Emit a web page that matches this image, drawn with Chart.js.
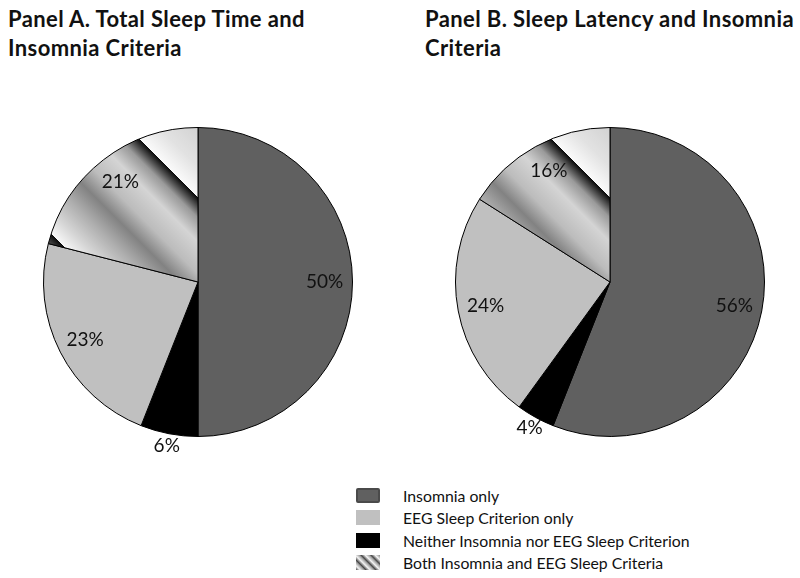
<!DOCTYPE html>
<html>
<head>
<meta charset="utf-8">
<script src="https://cdn.jsdelivr.net/npm/chart.js@4.4.0/dist/chart.umd.min.js"></script>
<style>
  body { margin: 0; background: #fff; font-family: Lato, "Open Sans", sans-serif; }
  #page { position: relative; width: 800px; height: 578px; overflow: hidden; }
  .title { position: absolute; top: 4px; font-weight: bold; font-size: 22px; letter-spacing: 0.4px; line-height: 29px; color: #111; }
  .box { position: absolute; top: 92px; width: 380px; height: 380px; }
  #legend { position: absolute; left: 356px; top: 484px; font-size: 15.8px; color: #111; }
  .row { display: flex; align-items: center; height: 22.5px; }
  .sw { width: 24px; height: 15px; margin-right: 23px; box-sizing: border-box; }
</style>
</head>
<body>
<div id="page">
  <div class="title" style="left:8px">Panel A. Total Sleep Time and<br>Insomnia Criteria</div>
  <div class="title" style="left:425px">Panel B. Sleep Latency and Insomnia<br>Criteria</div>
  <div class="box" style="left:8px"><canvas id="chartA"></canvas></div>
  <div class="box" style="left:420px"><canvas id="chartB"></canvas></div>
  <div id="legend"></div>
</div>
<script>
// slices in drawing order (clockwise from 12 o'clock)
const sliceLabels = ['Insomnia only', 'Neither Insomnia nor EEG Sleep Criterion', 'EEG Sleep Criterion only', 'Both Insomnia and EEG Sleep Criteria'];
const panelA = [50, 6, 23, 21];
const panelB = [56, 4, 24, 16];
const legendOrder = [0, 2, 1, 3];
const sliceColors = ['#606060', '#000000', '#c0c0c0', null];

// metallic diagonal band fill for the "both" slice
function bothFill(ctx) {
    const chart = ctx.chart;
    const area = chart.chartArea;
    if (!area) return '#bbbbbb';
    const cx = (area.left + area.right) / 2;
    const cy = (area.top + area.bottom) / 2;
    const k = 90; // d = (x-y) relative range -180..180
    const g = chart.ctx.createLinearGradient(cx - k, cy + k, cx + k, cy - k);
    const stops = [
        [-180, '#c4c4c4'], [-140, '#a0a0a0'], [-112, '#555555'], [-99, '#0c0c0c'],
        [-98, '#f6f6f6'], [-75, '#d4d4d4'], [-45, '#acacac'], [-18, '#828282'],
        [8, '#bcbcbc'], [40, '#d4d4d4'], [64, '#9a9a9a'], [84, '#0c0c0c'],
        [85, '#fafafa'], [115, '#e2e2e2'], [180, '#c8c8c8']
    ];
    stops.forEach(s => g.addColorStop((s[0] + 180) / 360, s[1]));
    return g;
}

const pctLabels = {
    id: 'pctLabels',
    afterDatasetsDraw(chart) {
        const c = chart.ctx;
        const meta = chart.getDatasetMeta(0);
        const values = chart.data.datasets[0].data;
        c.save();
        c.font = '19px Lato, "Open Sans", sans-serif';
        c.fillStyle = '#111';
        c.textAlign = 'center';
        c.textBaseline = 'middle';
        meta.data.forEach((arc, i) => {
            const p = arc.getProps(['x', 'y', 'startAngle', 'endAngle', 'outerRadius'], true);
            const mid = (p.startAngle + p.endAngle) / 2;
            const f = values[i] < 10 ? 1.08 : 0.82;
            c.fillText(values[i] + '%', p.x + Math.cos(mid) * p.outerRadius * f, p.y + Math.sin(mid) * p.outerRadius * f);
        });
        c.restore();
    }
};

function makePie(id, values) {
    new Chart(document.getElementById(id), {
        type: 'pie',
        data: {
            labels: sliceLabels,
            datasets: [{
                data: values,
                backgroundColor: ctx => ctx.dataIndex === 3 ? bothFill(ctx) : sliceColors[ctx.dataIndex],
                borderColor: '#000',
                borderWidth: 1
            }]
        },
        options: {
            responsive: true,
            maintainAspectRatio: false,
            animation: false,
            layout: { padding: 35 },
            plugins: { legend: { display: false }, tooltip: { enabled: false } }
        },
        plugins: [pctLabels]
    });
}

makePie('chartA', panelA);
makePie('chartB', panelB);

// shared legend
const swatchStyles = [
    'background:#606060;border:2px solid #4a4a4a;border-radius:2px',
    'background:#000',
    'background:#c0c0c0',
    'background:repeating-linear-gradient(45deg,#444 0px,#f4f4f4 3px,#999 6px,#444 7px)'
];
const legend = document.getElementById('legend');
legendOrder.forEach(i => {
    const row = document.createElement('div');
    row.className = 'row';
    row.innerHTML = '<div class="sw" style="' + swatchStyles[i] + '"></div><span>' + sliceLabels[i] + '</span>';
    legend.appendChild(row);
});
</script>
</body>
</html>
